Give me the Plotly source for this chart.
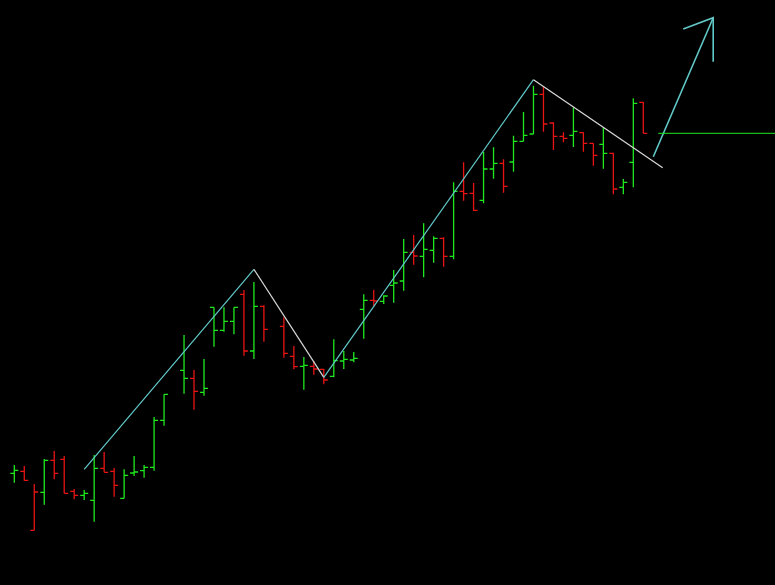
import plotly.graph_objects as go

# bar number (17 and 27 are gaps in the series)
bars = [1, 2, 3, 4, 5, 6, 7, 8, 9, 10, 11, 12, 13, 14, 15, 16, 18, 19, 20, 21,
        22, 23, 24, 25, 26, 28, 29, 30, 31, 32, 33, 34, 35, 36, 37, 38, 39, 40,
        41, 42, 43, 44, 45, 46, 47, 48, 49, 50, 51, 52, 53, 54, 55, 56, 57, 58,
        59, 60, 61, 62, 63, 64]

opens = [111.7, 113.7, 54.7, 92.7, 124.7, 125.7, 93.7, 89.7, 84.7, 116.7, 113.7, 86.7,
         112, 114.3, 117.7, 164.7, 214.7, 206.7, 192.7, 277.7, 254.7, 263.7, 290.7,
         234, 278.7, 258.7, 228.7, 218.7, 218.7, 215.7, 208.7, 224, 225, 275.7, 284.7,
         283.7, 299.7, 304, 332.7, 328.7, 334.7, 346.7, 328.7, 393.7, 391.7, 384.7,
         416, 421.7, 423, 443.7, 451, 490.7, 462, 448.7, 449.7, 452.3, 441.7, 440.7,
         431.7, 397.7, 422.7, 482.7]
highs = [120, 119, 101, 126, 134, 129, 96, 95, 130, 133, 117, 115.7,
         129, 120, 168, 190.7, 250, 215, 226, 277.7, 277.7, 277.7, 295,
         303, 279.7, 267.7, 239, 228, 223.7, 216, 245.7, 234, 233, 290.7, 295,
         289.7, 315, 346, 350, 361.7, 348.7, 347.7, 402.7, 422.7, 402, 433,
         437.7, 425.7, 449.3, 473, 499.3, 498.3, 462.7, 452.7, 477.7, 452.7, 441.7, 457.7,
         432.3, 406, 486.7, 483]
lows = [102.3, 104.3, 54.7, 80.3, 105.7, 91.7, 85.7, 85, 63.3, 112.7, 88.3, 86.7,
        109, 107.3, 114.3, 159.3, 191.3, 175.3, 189.3, 238.3, 253.3, 250.7, 229.3,
        226, 243.3, 227.3, 215.7, 195.3, 210.3, 200.7, 207.7, 216, 222.7, 246.3, 279,
        281, 282.3, 294.3, 320.3, 307.7, 322.3, 318.3, 325.7, 384.3, 374, 381.7,
        406.3, 392.3, 413.3, 443.7, 451, 453.3, 435, 442.7, 438, 433.3, 419.3, 416.3,
        390.7, 390.7, 397.7, 451.7]
closes = [114.7, 104.7, 93, 124.7, 111.7, 91.7, 89.7, 91.7, 116.7, 112.7, 99.7, 109.7,
          113, 117.7, 164.7, 190.7, 206.7, 193.7, 196.7, 254.7, 263.7, 277.7, 234,
          278.7, 255.7, 231.7, 218.3, 219.7, 216, 205, 224.3, 225.7, 226.7, 284.7, 284,
          289, 302, 332.7, 329, 335.7, 346.7, 328.7, 393.7, 391.3, 374.7, 416,
          421.7, 398.7, 443.7, 449.7, 490.7, 461, 448.7, 446.7, 453.7, 441.7, 429.7, 431.7,
          396, 402.7, 481.7, 451.7]

# trend lines drawn on the chart (bar number, price)
up1_x = [8, 25]
up1_y = [115.7, 315.7]
down1_x = [25, 32]
down1_y = [315.7, 207.7]
up2_x = [32, 53]
up2_y = [207.7, 505.3]
down2_x = [53, 65.94]
down2_y = [505.3, 417.3]
arrow_x = [65, 71, None, 68, 71, 71]
arrow_y = [428.3, 567.3, None, 556, 567.3, 523.3]
last_price = closes[-1]

GREEN = "#1fe81f"
RED = "#e81414"
CYAN = "#62c9c9"
GREY = "#d9d9d9"

# bar colour follows close versus previous close
up = {k: [] for k in "xohlc"}
dn = {k: [] for k in "xohlc"}
for i in range(len(bars)):
    if i == 0 or closes[i] >= closes[i - 1]:
        d = up
    else:
        d = dn
    d["x"].append(bars[i])
    d["o"].append(opens[i])
    d["h"].append(highs[i])
    d["l"].append(lows[i])
    d["c"].append(closes[i])

fig = go.Figure()
for d, col in [(up, GREEN), (dn, RED)]:
    fig.add_trace(go.Ohlc(x=d["x"], open=d["o"], high=d["h"], low=d["l"], close=d["c"],
                          increasing=dict(line=dict(color=col, width=1.3)),
                          decreasing=dict(line=dict(color=col, width=1.3)),
                          tickwidth=0.4, showlegend=False, hoverinfo="skip"))

fig.add_trace(go.Scatter(x=up1_x, y=up1_y, mode="lines", line=dict(color=CYAN, width=1.2), showlegend=False))
fig.add_trace(go.Scatter(x=down1_x, y=down1_y, mode="lines", line=dict(color=GREY, width=1.2), showlegend=False))
fig.add_trace(go.Scatter(x=up2_x, y=up2_y, mode="lines", line=dict(color=CYAN, width=1.2), showlegend=False))
fig.add_trace(go.Scatter(x=down2_x, y=down2_y, mode="lines", line=dict(color=GREY, width=1.2), showlegend=False))
fig.add_trace(go.Scatter(x=arrow_x, y=arrow_y, mode="lines", line=dict(color=CYAN, width=1.6), showlegend=False))
fig.add_trace(go.Scatter(x=[65.5, 80], y=[last_price, last_price], mode="lines",
                         line=dict(color=GREEN, width=1), showlegend=False))

fig.update_layout(
    width=775, height=585,
    margin=dict(l=0, r=0, t=0, b=0),
    paper_bgcolor="#000000", plot_bgcolor="#000000",
    xaxis=dict(range=[-0.432, 77.19], visible=False, rangeslider=dict(visible=False)),
    yaxis=dict(range=[0, 585], visible=False),
    hovermode=False,
)

# drop the page's default body margin so the chart fills the window
fig.write_html("out.html", config={"displayModeBar": False},
               post_script="document.body.style.margin='0';document.body.style.background='#000';")
